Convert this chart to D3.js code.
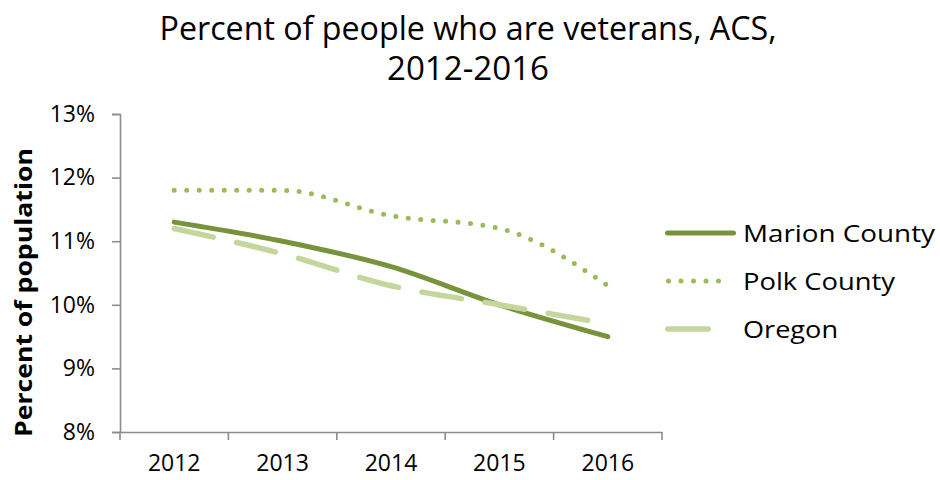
<!DOCTYPE html>
<html><head><meta charset="utf-8">
<script src="https://cdn.jsdelivr.net/npm/d3@7"></script>
<style>body{margin:0;background:#fff}svg{display:block}</style>
</head><body><svg id="c" width="940" height="480"></svg>
<script>
const years = ["2012","2013","2014","2015","2016"];
const marion = [11.3, 11.0, 10.6, 10.0, 9.5];
const polk = [11.8, 11.8, 11.4, 11.2, 10.3];
const oregon = [11.2, 10.8, 10.3, 10.0, 9.7];
const seriesNames = ["Marion County","Polk County","Oregon"];
const yTicks = [8, 9, 10, 11, 12, 13];
const titleLines = ["Percent of people who are veterans, ACS,", "2012-2016"];
const yTitle = "Percent of population";

const FONT = "'Open Sans','Noto Sans',sans-serif";
const svg = d3.select("#c").attr("font-family", FONT);
const L = 120, R = 662, T = 114, B = 432;
const x = d3.scaleBand().domain(years).range([L, R]);
const y = d3.scaleLinear().domain([8, 13]).range([B, T]);
const axisColor = "#8c8c8c";

// title
svg.append("g").selectAll("text").data(titleLines).join("text")
  .attr("x", 468).attr("y", (d,i) => 40 + i*40)
  .attr("text-anchor","middle").attr("font-size", 32).attr("fill","#000")
  .attr("textLength", (d,i) => i===0 ? 617 : 162).attr("lengthAdjust","spacingAndGlyphs")
  .text(d => d);

// y axis
const ya = svg.append("g").attr("transform", `translate(${L},0)`)
  .call(d3.axisLeft(y).tickValues(yTicks).tickFormat(d => d + "%").tickSize(8).tickPadding(17));
ya.attr("font-family", FONT).attr("font-size", 23);
ya.select(".domain").attr("stroke", axisColor).attr("stroke-width", 1.6);
ya.selectAll(".tick line").attr("stroke", axisColor).attr("stroke-width", 1.6);
ya.selectAll(".tick text").attr("fill", "#000");

// x axis
const xa = svg.append("g").attr("transform", `translate(0,${B})`)
  .call(d3.axisBottom(x).tickSize(0).tickPadding(23));
xa.attr("font-family", FONT).attr("font-size", 23);
xa.select(".domain").attr("stroke", axisColor).attr("stroke-width", 1.6);
xa.selectAll(".tick text").attr("fill", "#000");
const bounds = years.map(d => x(d)).concat([R]);
svg.append("g").selectAll("line").data(bounds).join("line")
  .attr("x1", d => d).attr("x2", d => d).attr("y1", B).attr("y2", B + 8)
  .attr("stroke", axisColor).attr("stroke-width", 1.6);

// y title
svg.append("text").attr("transform", `translate(32,292.5) rotate(-90)`)
  .attr("text-anchor","middle").attr("font-size", 23).attr("font-weight","bold")
  .attr("textLength", 289).attr("lengthAdjust","spacingAndGlyphs").text(yTitle);

const styles = [
  {color:"#77933C", width:5, dash:null},
  {color:"#9BBB59", width:5, dash:"0 12.5"},
  {color:"#C3D69B", width:5.5, dash:"40 24"}
];
const data = [marion, polk, oregon];
const line = d3.line().x((d,i) => x(years[i]) + x.bandwidth()/2).y(d => y(d)).curve(d3.curveMonotoneX);
data.forEach((vals, k) => {
  const p = svg.append("path").datum(vals).attr("d", line).attr("fill","none")
    .attr("stroke", styles[k].color).attr("stroke-width", styles[k].width).attr("stroke-linecap","round");
  if (styles[k].dash) p.attr("stroke-dasharray", styles[k].dash);
});

// legend
const legY = [233, 281, 329];
const legW = [192, 152, 95];
const leg = svg.append("g");
seriesNames.forEach((n, k) => {
  const yy = legY[k];
  const l = leg.append("line").attr("y1", yy).attr("y2", yy)
    .attr("stroke", styles[k].color).attr("stroke-width", styles[k].width).attr("stroke-linecap","round");
  if (k===0) l.attr("x1", 667.5).attr("x2", 733.5);
  if (k===1) l.attr("x1", 668.5).attr("x2", 731).attr("stroke-dasharray","0 12.5");
  if (k===2) l.attr("x1", 667.75).attr("x2", 732.25).attr("stroke-dasharray","40.5 24.5");
  leg.append("text").attr("x", 743).attr("y", yy + 9).attr("font-size", 24).attr("fill","#000")
    .attr("textLength", legW[k]).attr("lengthAdjust","spacingAndGlyphs").text(n);
});
</script></body></html>
